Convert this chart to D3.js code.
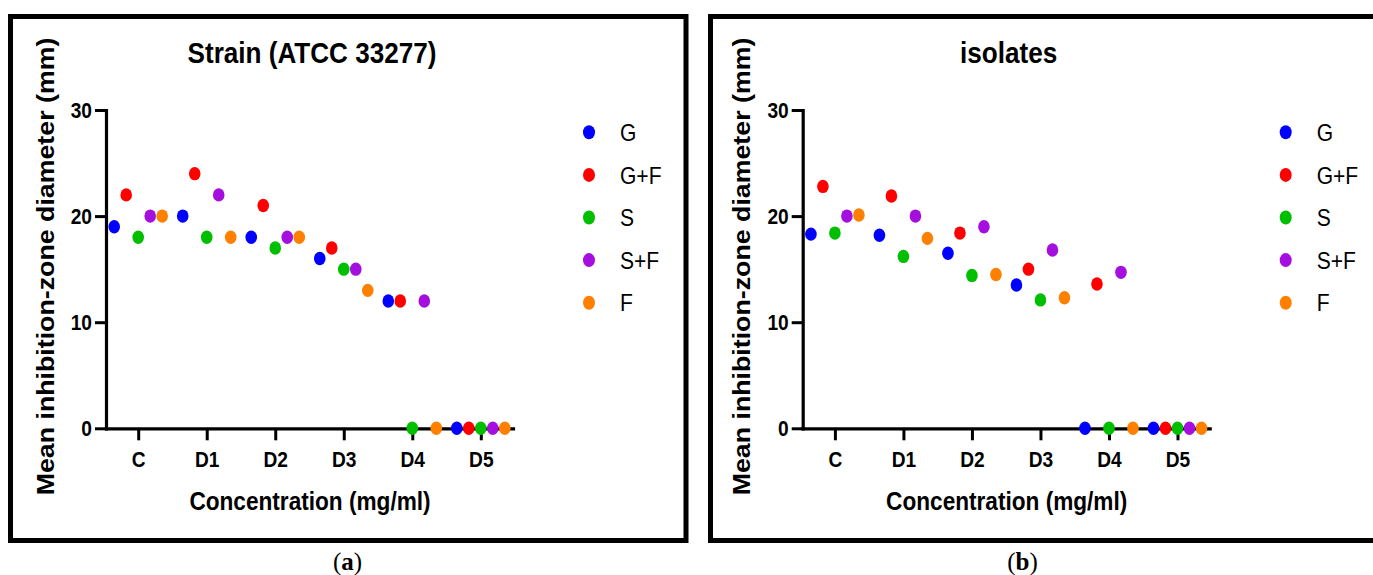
<!DOCTYPE html>
<html><head><meta charset="utf-8">
<script src="https://cdn.jsdelivr.net/npm/d3@7"></script>
<style>body{margin:0;background:#fff;overflow:hidden}</style>
</head><body>
<svg id="c" width="1373" height="575"></svg>
<script>
// ---- data ----
const categories = ["C", "D1", "D2", "D3", "D4", "D5"];
const seriesNames = ["G", "G+F", "S", "S+F", "F"];
const seriesColors = ["#0000ff", "#ff0000", "#00bf00", "#a40fe0", "#ff8000"];
const yTicks = [0, 10, 20, 30];

// panel (a) Strain (ATCC 33277)
const strainG  = [19, 20, 18, 16, 12, 0];
const strainGF = [22, 24, 21, 17, 12, 0];
const strainS  = [18, 18, 17, 15, 0, 0];
const strainSF = [20, 22, 18, 15, 12, 0];
const strainF  = [20, 18, 18, 13, 0, 0];

// panel (b) isolates
const isoG  = [18.3, 18.2, 16.5, 13.5, 0, 0];
const isoGF = [22.8, 21.9, 18.4, 15.0, 13.6, 0];
const isoS  = [18.4, 16.2, 14.4, 12.1, 0, 0];
const isoSF = [20.0, 20.0, 19.0, 16.8, 14.7, 0];
const isoF  = [20.1, 17.9, 14.5, 12.3, 0, 0];

const titles = ["Strain (ATCC 33277)", "isolates"];
const captions = ["a", "b"];
const xTitle = "Concentration (mg/ml)";
const yTitle = "Mean inhibition-zone diameter (mm)";

const panels = [
  {series: [strainG, strainGF, strainS, strainSF, strainF], title: titles[0], cap: captions[0]},
  {series: [isoG, isoGF, isoS, isoSF, isoF], title: titles[1], cap: captions[1]}
];

// ---- drawing ----
const svg = d3.select("#c");
const FONT = "'Liberation Sans', Arial, Helvetica, sans-serif";
const SX = 0.87; // horizontal compression of text (figure is vertically stretched)

const frames = [{x: 10.5, w: 675.5}, {x: 710.5, w: 680}];
const offsets = [0, 696.7];

panels.forEach((p, pi) => {
  const ox = offsets[pi];
  const fr = frames[pi];
  svg.append("rect")
    .attr("x", fr.x).attr("y", 16.5).attr("width", fr.w).attr("height", 524)
    .attr("fill", "none").attr("stroke", "#000").attr("stroke-width", 5);

  const g = svg.append("g").attr("transform", `translate(${ox},0)`);
  const x = d3.scalePoint().domain(categories).range([106, 513]).padding(0.47);
  const y = d3.scaleLinear().domain([0, 30]).range([428.3, 110]);
  const dx = 12;

  // y axis
  const ya = g.append("g").attr("transform", "translate(106,0)")
    .call(d3.axisLeft(y).tickValues(yTicks).tickSize(11).tickSizeOuter(0).tickPadding(3));
  // x axis
  const xa = g.append("g").attr("transform", "translate(0,428.3)")
    .call(d3.axisBottom(x).tickSize(12).tickSizeOuter(0).tickPadding(11.5));

  [ya, xa].forEach(a => {
    a.select(".domain").attr("stroke-width", 3.2).attr("stroke-linecap", "square");
    a.selectAll(".tick line").attr("stroke-width", 3);
    a.selectAll(".tick text")
      .attr("font-family", FONT).attr("font-weight", "bold")
      .attr("font-size", 22).attr("fill", "#000");
  });
  ya.selectAll(".tick text").attr("x", -14 / SX).attr("transform", `scale(${SX},1)`);
  xa.selectAll(".tick text").attr("transform", `scale(${SX},1)`);

  // title
  g.append("text")
    .attr("transform", `translate(312,63) scale(${SX},1)`)
    .attr("text-anchor", "middle").attr("font-family", FONT).attr("font-weight", "bold")
    .attr("font-size", 30).text(p.title);

  // x title
  g.append("text")
    .attr("transform", `translate(310,510) scale(${SX},1)`)
    .attr("text-anchor", "middle").attr("font-family", FONT).attr("font-weight", "bold")
    .attr("font-size", 26).text(xTitle);

  // y title
  g.append("text")
    .attr("transform", "translate(53.5,266.5) scale(1,1.115) rotate(-90)")
    .attr("text-anchor", "middle").attr("font-family", FONT).attr("font-weight", "bold")
    .attr("font-size", 24).text(yTitle);

  // points
  p.series.forEach((vals, si) => {
    g.append("g").selectAll("ellipse").data(vals).join("ellipse")
      .attr("cx", (d, i) => x(categories[i]) + (si - 2) * dx)
      .attr("cy", d => y(d))
      .attr("rx", 5.8).attr("ry", 6.7)
      .attr("fill", seriesColors[si]);
  });

  // legend
  const lg = g.append("g").attr("transform", "translate(589,132.3)");
  seriesNames.forEach((n, i) => {
    const row = lg.append("g").attr("transform", `translate(0,${i * 42.6})`);
    row.append("ellipse").attr("rx", 6).attr("ry", 7).attr("fill", seriesColors[i]);
    row.append("text")
      .attr("transform", `translate(31,8.6) scale(${SX},1)`)
      .attr("font-family", FONT).attr("font-size", 24.2).attr("fill", "#000").text(n);
  });

  // caption
  const cx = pi === 0 ? 347.5 : 1022.5;
  const ct = svg.append("text").attr("x", cx).attr("y", 570)
    .attr("text-anchor", "middle").attr("font-family", "'Liberation Serif', 'Times New Roman', serif")
    .attr("font-size", 25).attr("fill", "#000");
  ct.append("tspan").text("(");
  ct.append("tspan").attr("font-weight", "bold").text(p.cap);
  ct.append("tspan").text(")");
});
</script>
</body></html>
